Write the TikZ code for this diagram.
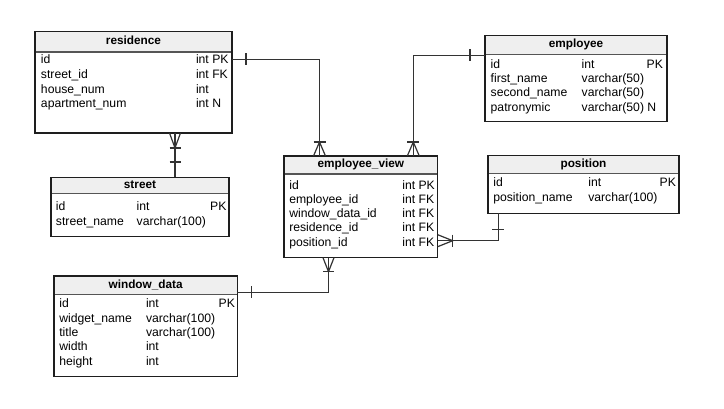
\documentclass[tikz,border=0pt]{standalone}
\usepackage{fontspec}
\setmainfont{Liberation Sans}
\usetikzlibrary{calc}
\definecolor{bord}{HTML}{1E1E1E}
\definecolor{hdrfill}{HTML}{EFEFEF}
\definecolor{hline}{HTML}{555555}
\definecolor{linec}{HTML}{333333}
\newcommand{\tabfont}{\fontsize{12.2}{14}\selectfont}
\newcommand{\hdrfont}{\fontsize{11.8}{14}\selectfont}
\begin{document}
\begin{tikzpicture}[x=1pt,y=-1pt,
  tbl/.style={draw=bord,line width=1.1pt,fill=white,inner sep=0pt,outer sep=0pt,anchor=north west},
  hdr/.style={draw=none,fill=hdrfill,inner sep=0pt,outer sep=0pt,anchor=north west,font=\bfseries\hdrfont,text height=8.5pt,text depth=2.5pt},
  border/.style={draw=bord,line width=1.1pt},
  hsep/.style={draw=hline,line width=1.1pt},
  txt/.style={inner sep=0pt,outer sep=0pt,anchor=west,font=\tabfont,text height=8.8pt,text depth=2.6pt,yshift=-1.2pt},
  rtxt/.style={txt,anchor=east},
  conn/.style={draw=linec,line width=1.2pt},
]
\fill[white] (0,0) rectangle (724,409);
\useasboundingbox (0,0) rectangle (724,409);

% ---------- residence ----------
\node[tbl,minimum width=197pt,minimum height=101.5pt] (residence) at (35,31.5) {};
\node[hdr,minimum width=197pt,minimum height=20.5pt] (residence-h) at (residence.north west) {residence};
\draw[hsep] (residence-h.south west) -- (residence-h.south east);
\draw[border] (residence.north west) rectangle (residence.south east);
\node[txt] (res-id) at (41,59.3) {id};
\node[txt] (res-id-t) at (196,59.3) {int PK};
\node[txt] (res-st) at (41,74.1) {street\_id};
\node[txt] (res-st-t) at (196,74.1) {int FK};
\node[txt] (res-hn) at (41,88.9) {house\_num};
\node[txt] (res-hn-t) at (196,88.9) {int};
\node[txt] (res-an) at (41,103.7) {apartment\_num};
\node[txt] (res-an-t) at (196,103.7) {int N};

% ---------- street ----------
\node[tbl,minimum width=178pt,minimum height=59.5pt] (street) at (51,177.3) {};
\node[hdr,minimum width=178pt,minimum height=16.5pt] (street-h) at (street.north west) {street};
\draw[hsep] (street-h.south west) -- (street-h.south east);
\draw[border] (street.north west) rectangle (street.south east);
\node[txt] (st-id) at (56,206.7) {id};
\node[txt] (st-id-t) at (136.7,206.7) {int};
\node[rtxt] (st-id-k) at (226.5,206.7) {PK};
\node[txt] (st-nm) at (56,221.1) {street\_name};
\node[txt] (st-nm-t) at (136.7,221.1) {varchar(100)};

% ---------- employee ----------
\node[tbl,minimum width=182pt,minimum height=86pt] (employee) at (485,35.7) {};
\node[hdr,minimum width=182pt,minimum height=18.5pt] (employee-h) at (employee.north west) {employee};
\draw[hsep] (employee-h.south west) -- (employee-h.south east);
\draw[border] (employee.north west) rectangle (employee.south east);
\node[txt] (em-id) at (490.7,64) {id};
\node[txt] (em-id-t) at (581.7,64) {int};
\node[rtxt] (em-id-k) at (663,64) {PK};
\node[txt] (em-fn) at (490.7,78.3) {first\_name};
\node[txt] (em-fn-t) at (581.7,78.3) {varchar(50)};
\node[txt] (em-sn) at (490.7,92.6) {second\_name};
\node[txt] (em-sn-t) at (581.7,92.6) {varchar(50)};
\node[txt] (em-pn) at (490.7,106.9) {patronymic};
\node[txt] (em-pn-t) at (581.7,106.9) {varchar(50) N};

% ---------- employee_view ----------
\node[tbl,minimum width=153.7pt,minimum height=101.7pt] (ev) at (284,156) {};
\node[hdr,minimum width=153.7pt,minimum height=18pt] (ev-h) at (ev.north west) {employee\_view};
\draw[hsep] (ev-h.south west) -- (ev-h.south east);
\draw[border] (ev.north west) rectangle (ev.south east);
\node[txt] (ev-id) at (289.3,185) {id};
\node[txt] (ev-id-t) at (402.3,185) {int PK};
\node[txt] (ev-em) at (289.3,199.2) {employee\_id};
\node[txt] (ev-em-t) at (402.3,199.2) {int FK};
\node[txt] (ev-wd) at (289.3,213.4) {window\_data\_id};
\node[txt] (ev-wd-t) at (402.3,213.4) {int FK};
\node[txt] (ev-rs) at (289.3,227.6) {residence\_id};
\node[txt] (ev-rs-t) at (402.3,227.6) {int FK};
\node[txt] (ev-ps) at (289.3,241.8) {position\_id};
\node[txt] (ev-ps-t) at (402.3,241.8) {int FK};

% ---------- position ----------
\node[tbl,minimum width=191pt,minimum height=58pt] (position) at (488,155.3) {};
\node[hdr,minimum width=191pt,minimum height=18pt] (position-h) at (position.north west) {position};
\draw[hsep] (position-h.south west) -- (position-h.south east);
\draw[border] (position.north west) rectangle (position.south east);
\node[txt] (po-id) at (493.3,182.7) {id};
\node[txt] (po-id-t) at (588.3,182.7) {int};
\node[rtxt] (po-id-k) at (676,182.7) {PK};
\node[txt] (po-nm) at (493.3,197.2) {position\_name};
\node[txt] (po-nm-t) at (588.3,197.2) {varchar(100)};

% ---------- window_data ----------
\node[tbl,minimum width=183.3pt,minimum height=100.7pt] (window) at (54,276) {};
\node[hdr,minimum width=183.3pt,minimum height=18.3pt] (window-h) at (window.north west) {window\_data};
\draw[hsep] (window-h.south west) -- (window-h.south east);
\draw[border] (window.north west) rectangle (window.south east);
\node[txt] (wd-id) at (59.3,303.5) {id};
\node[txt] (wd-id-t) at (146,303.5) {int};
\node[rtxt] (wd-id-k) at (235,303.5) {PK};
\node[txt] (wd-wn) at (59.3,317.9) {widget\_name};
\node[txt] (wd-wn-t) at (146,317.9) {varchar(100)};
\node[txt] (wd-tt) at (59.3,332.3) {title};
\node[txt] (wd-tt-t) at (146,332.3) {varchar(100)};
\node[txt] (wd-wi) at (59.3,346.7) {width};
\node[txt] (wd-wi-t) at (146,346.7) {int};
\node[txt] (wd-he) at (59.3,361.1) {height};
\node[txt] (wd-he-t) at (146,361.1) {int};

% ---------- connector end points ----------
\coordinate (resR) at ($(residence.east |- res-id)+(0,-1.2)$);
\coordinate (evA) at ($(ev.north west)+(35.5,0)$);
\coordinate (empL) at ($(employee.north west)+(0,19.8)$);
\coordinate (evB) at ($(ev.north west)+(129.3,0)$);
\coordinate (resB) at ($(residence.south west)+(140,0)$);
\coordinate (posB) at ($(position.south west)+(10.3,0)$);
\coordinate (evR) at ($(ev.north east)+(0,84.7)$);
\coordinate (evD) at ($(ev.south west)+(44.5,0)$);
\coordinate (winR) at ($(window.north east)+(0,16.5)$);

% residence -> employee_view
\draw[conn] (resR) -| (evA);
\draw[conn] ($(resR)+(14,-6)$) -- +(0,12);
\draw[conn] ($(evA)+(-6,0)$) -- ($(evA)+(0,-14)$) -- ($(evA)+(6,0)$);
\draw[conn] ($(evA)+(-6,-14)$) -- ($(evA)+(6,-14)$);

% employee -> employee_view
\draw[conn] (empL) -| (evB);
\draw[conn] ($(empL)+(-15,-6)$) -- +(0,12);
\draw[conn] ($(evB)+(-6,0)$) -- ($(evB)+(0,-14)$) -- ($(evB)+(6,0)$);
\draw[conn] ($(evB)+(-6,-14)$) -- ($(evB)+(6,-14)$);

% street -> residence
\draw[conn] (resB) -- (resB |- street.north);
\draw[conn] ($(resB)+(-5.5,0)$) -- ($(resB)+(0,15)$) -- ($(resB)+(5.5,0)$);
\draw[conn] ($(resB)+(-5.5,15)$) -- ($(resB)+(5.5,15)$);
\draw[conn] ($(resB)+(-5.5,29)$) -- ($(resB)+(5.5,29)$);

% position -> employee_view
\draw[conn] (posB) |- (evR);
\draw[conn] ($(posB)+(-6,16)$) -- +(12,0);
\draw[conn] ($(evR)+(0,-6)$) -- ($(evR)+(15,0)$) -- ($(evR)+(0,6)$);
\draw[conn] ($(evR)+(15,-6)$) -- ($(evR)+(15,6)$);

% window_data -> employee_view
\draw[conn] (winR) -| (evD);
\draw[conn] ($(winR)+(14.4,-6)$) -- +(0,12);
\draw[conn] ($(evD)+(-5.5,0)$) -- ($(evD)+(0,14)$) -- ($(evD)+(5.5,0)$);
\draw[conn] ($(evD)+(-5.5,14)$) -- ($(evD)+(5.5,14)$);
\end{tikzpicture}
\end{document}
